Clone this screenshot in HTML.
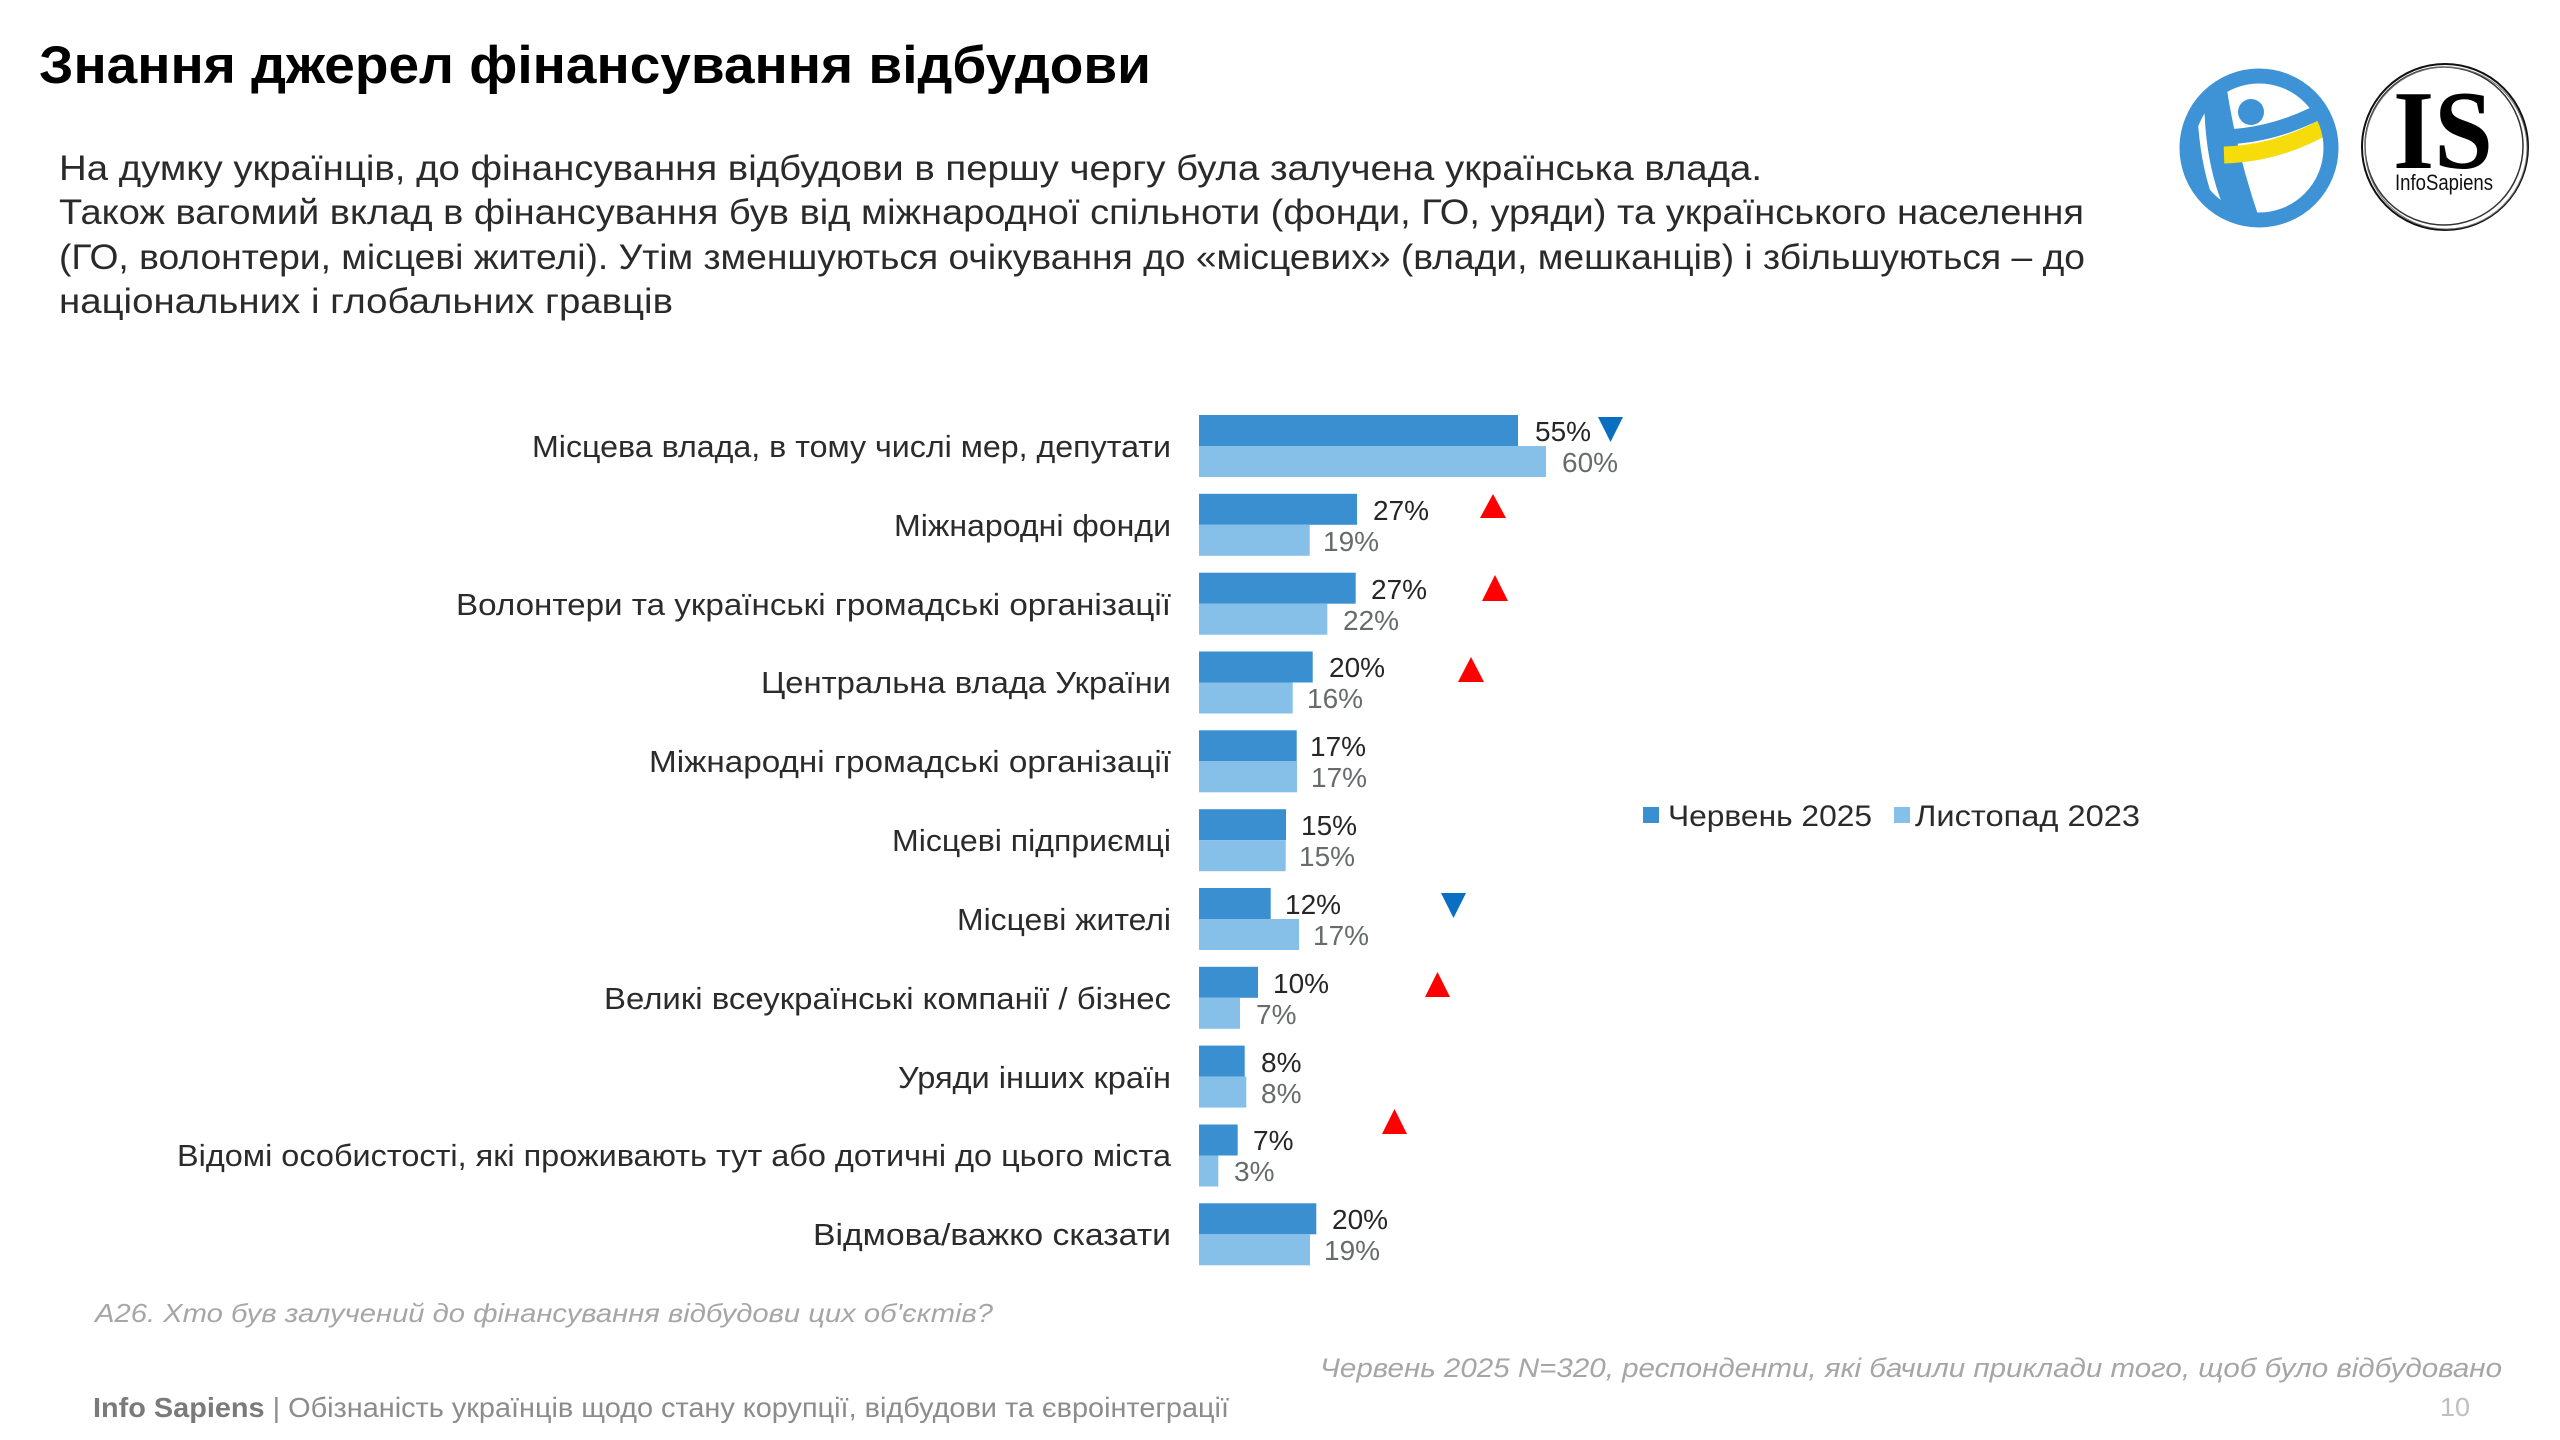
<!DOCTYPE html>
<html>
<head>
<meta charset="utf-8">
<style>
  html, body { margin: 0; padding: 0; background: #ffffff; }
  svg { display: block; }
  text { font-family: "Liberation Sans", "Noto Sans CJK SC", sans-serif; }
</style>
</head>
<body>
<svg width="2560" height="1440" viewBox="0 0 2560 1440" xmlns="http://www.w3.org/2000/svg">
  <defs>
    <clipPath id="tiClip"><circle cx="2259" cy="148" r="72"/></clipPath>
  </defs>
  <rect width="2560" height="1440" fill="#ffffff"/>

  <!-- Title -->
  <text x="39" y="83" font-size="53" font-weight="bold" fill="#000" textLength="1112" lengthAdjust="spacingAndGlyphs">Знання джерел фінансування відбудови</text>

  <!-- Subtitle -->
  <g font-size="35" fill="#2a2a2a">
    <text x="59" y="180" textLength="1703" lengthAdjust="spacingAndGlyphs">На думку українців, до фінансування відбудови в першу чергу була залучена українська влада.</text>
    <text x="59" y="224" textLength="2025" lengthAdjust="spacingAndGlyphs">Також вагомий вклад в фінансування був від міжнародної спільноти (фонди, ГО, уряди) та українського населення</text>
    <text x="59" y="269" textLength="2026" lengthAdjust="spacingAndGlyphs">(ГО, волонтери, місцеві жителі). Утім зменшуються очікування до «місцевих» (влади, мешканців) і збільшуються – до</text>
    <text x="59" y="313" textLength="614" lengthAdjust="spacingAndGlyphs">національних і глобальних гравців</text>
  </g>

  <!-- TI logo -->
  <g>
    <circle cx="2259" cy="148" r="72" fill="#ffffff"/>
    <g clip-path="url(#tiClip)">
      <path d="M2208 70 Q2218 150 2247 232" fill="none" stroke="#3d93d5" stroke-width="32"/>
      <path d="M2186 100 L2196 100 Q2200 170 2222 225 L2186 225 Z" fill="#3d93d5"/>
      <path d="M2201 112 Q2203 165 2219 205" fill="none" stroke="#ffffff" stroke-width="7"/>
      <path d="M2222 137 Q2282 136 2340 100" fill="none" stroke="#3d93d5" stroke-width="15"/>
      <path d="M2224 155 Q2287 153 2340 117" fill="none" stroke="#f5dc0a" stroke-width="17"/>
    </g>
    <circle cx="2251" cy="112" r="13" fill="#3d93d5"/>
    <circle cx="2259" cy="148" r="72" fill="none" stroke="#3d93d5" stroke-width="15"/>
  </g>

  <!-- InfoSapiens logo -->
  <g>
    <circle cx="2445" cy="147" r="83" fill="none" stroke="#111" stroke-width="2"/>
    <circle cx="2444" cy="146" r="79" fill="none" stroke="#333" stroke-width="1.5"/>
    <circle cx="2446" cy="148" r="81" fill="none" stroke="#777" stroke-width="1"/>
    <text x="2443" y="168" font-size="112" font-weight="bold" fill="#000" text-anchor="middle" textLength="100" lengthAdjust="spacingAndGlyphs" style="font-family:'Liberation Serif',serif">IS</text>
    <text x="2444" y="190" font-size="22" fill="#111" text-anchor="middle" textLength="98" lengthAdjust="spacingAndGlyphs">InfoSapiens</text>
  </g>

  <!-- Category labels -->
  <g font-size="31" fill="#2b2b2b" text-anchor="end">
    <text x="1171" y="457" textLength="639" lengthAdjust="spacingAndGlyphs">Місцева влада, в тому числі мер, депутати</text>
    <text x="1171" y="536" textLength="277" lengthAdjust="spacingAndGlyphs">Міжнародні фонди</text>
    <text x="1171" y="615" textLength="715" lengthAdjust="spacingAndGlyphs">Волонтери та українські громадські організації</text>
    <text x="1171" y="693" textLength="410" lengthAdjust="spacingAndGlyphs">Центральна влада України</text>
    <text x="1171" y="772" textLength="522" lengthAdjust="spacingAndGlyphs">Міжнародні громадські організації</text>
    <text x="1171" y="851" textLength="279" lengthAdjust="spacingAndGlyphs">Місцеві підприємці</text>
    <text x="1171" y="930" textLength="214" lengthAdjust="spacingAndGlyphs">Місцеві жителі</text>
    <text x="1171" y="1009" textLength="567" lengthAdjust="spacingAndGlyphs">Великі всеукраїнські компанії / бізнес</text>
    <text x="1171" y="1088" textLength="273" lengthAdjust="spacingAndGlyphs">Уряди інших країн</text>
    <text x="1171" y="1166" textLength="994" lengthAdjust="spacingAndGlyphs">Відомі особистості, які проживають тут або дотичні до цього міста</text>
    <text x="1171" y="1245" textLength="358" lengthAdjust="spacingAndGlyphs">Відмова/важко сказати</text>
  </g>

  <!-- Bars: dark (June 2025) -->
  <g fill="#3a8fd1">
    <rect x="1199" y="415.0" width="319" height="31"/>
    <rect x="1199" y="493.8" width="158" height="31"/>
    <rect x="1199" y="572.7" width="156.7" height="31"/>
    <rect x="1199" y="651.5" width="113.7" height="31"/>
    <rect x="1199" y="730.3" width="97.7" height="31"/>
    <rect x="1199" y="809.2" width="87" height="31"/>
    <rect x="1199" y="888.0" width="71.7" height="31"/>
    <rect x="1199" y="966.8" width="59" height="31"/>
    <rect x="1199" y="1045.6" width="45.7" height="31"/>
    <rect x="1199" y="1124.5" width="38.7" height="31"/>
    <rect x="1199" y="1203.3" width="117.3" height="31"/>
  </g>
  <!-- Bars: light (Nov 2023) -->
  <g fill="#86c0e8">
    <rect x="1199" y="446.0" width="347" height="31"/>
    <rect x="1199" y="524.8" width="110.7" height="31"/>
    <rect x="1199" y="603.7" width="128.3" height="31"/>
    <rect x="1199" y="682.5" width="93.7" height="31"/>
    <rect x="1199" y="761.3" width="98" height="31"/>
    <rect x="1199" y="840.2" width="86.7" height="31"/>
    <rect x="1199" y="919.0" width="100" height="31"/>
    <rect x="1199" y="997.8" width="41" height="31"/>
    <rect x="1199" y="1076.6" width="47.3" height="31"/>
    <rect x="1199" y="1155.5" width="19.3" height="31"/>
    <rect x="1199" y="1234.3" width="111" height="31"/>
  </g>

  <!-- Value labels: dark -->
  <g font-size="28" fill="#262626">
    <text x="1535" y="441">55%</text>
    <text x="1373" y="520">27%</text>
    <text x="1371" y="599">27%</text>
    <text x="1329" y="677">20%</text>
    <text x="1310" y="756">17%</text>
    <text x="1301" y="835">15%</text>
    <text x="1285" y="914">12%</text>
    <text x="1273" y="993">10%</text>
    <text x="1261" y="1072">8%</text>
    <text x="1253" y="1150">7%</text>
    <text x="1332" y="1229">20%</text>
  </g>
  <!-- Value labels: light -->
  <g font-size="28" fill="#676b6b">
    <text x="1562" y="472">60%</text>
    <text x="1323" y="551">19%</text>
    <text x="1343" y="630">22%</text>
    <text x="1307" y="708">16%</text>
    <text x="1311" y="787">17%</text>
    <text x="1299" y="866">15%</text>
    <text x="1313" y="945">17%</text>
    <text x="1256" y="1024">7%</text>
    <text x="1261" y="1103">8%</text>
    <text x="1234" y="1181">3%</text>
    <text x="1324" y="1260">19%</text>
  </g>

  <!-- Change markers -->
  <g>
    <polygon points="1598,417 1623,417 1610.5,442" fill="#0a6fc2"/>
    <polygon points="1480,518 1506,518 1493,494" fill="#ff0000"/>
    <polygon points="1482,601 1508,601 1495,575" fill="#ff0000"/>
    <polygon points="1458,682 1484,682 1471,657" fill="#ff0000"/>
    <polygon points="1441,893 1466,893 1453.5,918" fill="#0a6fc2"/>
    <polygon points="1425,997 1450,997 1437.5,972" fill="#ff0000"/>
    <polygon points="1382,1134 1407,1134 1394.5,1109" fill="#ff0000"/>
  </g>

  <!-- Legend -->
  <g font-size="30" fill="#2b2b2b">
    <rect x="1643" y="807" width="16" height="16" fill="#3a8fd1"/>
    <text x="1668" y="826" textLength="204" lengthAdjust="spacingAndGlyphs">Червень 2025</text>
    <rect x="1894" y="807" width="16" height="16" fill="#86c0e8"/>
    <text x="1915" y="826" textLength="225" lengthAdjust="spacingAndGlyphs">Листопад 2023</text>
  </g>

  <!-- Footer -->
  <text x="95" y="1322" font-size="26" font-style="italic" fill="#a6a6a6" textLength="898" lengthAdjust="spacingAndGlyphs">А26. Хто був залучений до фінансування відбудови цих об'єктів?</text>
  <text x="1320" y="1377" font-size="27" font-style="italic" fill="#a6a6a6" textLength="1182" lengthAdjust="spacingAndGlyphs">Червень 2025 N=320, респонденти, які бачили приклади того, щоб було відбудовано</text>
  <text x="93" y="1417" font-size="28" fill="#8c8c8c" textLength="1136" lengthAdjust="spacingAndGlyphs"><tspan fill="#7a7a7a" font-weight="bold">Info Sapiens</tspan> | Обізнаність українців щодо стану корупції, відбудови та євроінтеграції</text>
  <text x="2440" y="1416" font-size="26" fill="#bfbfbf" textLength="30" lengthAdjust="spacingAndGlyphs">10</text>
</svg>
</body>
</html>
